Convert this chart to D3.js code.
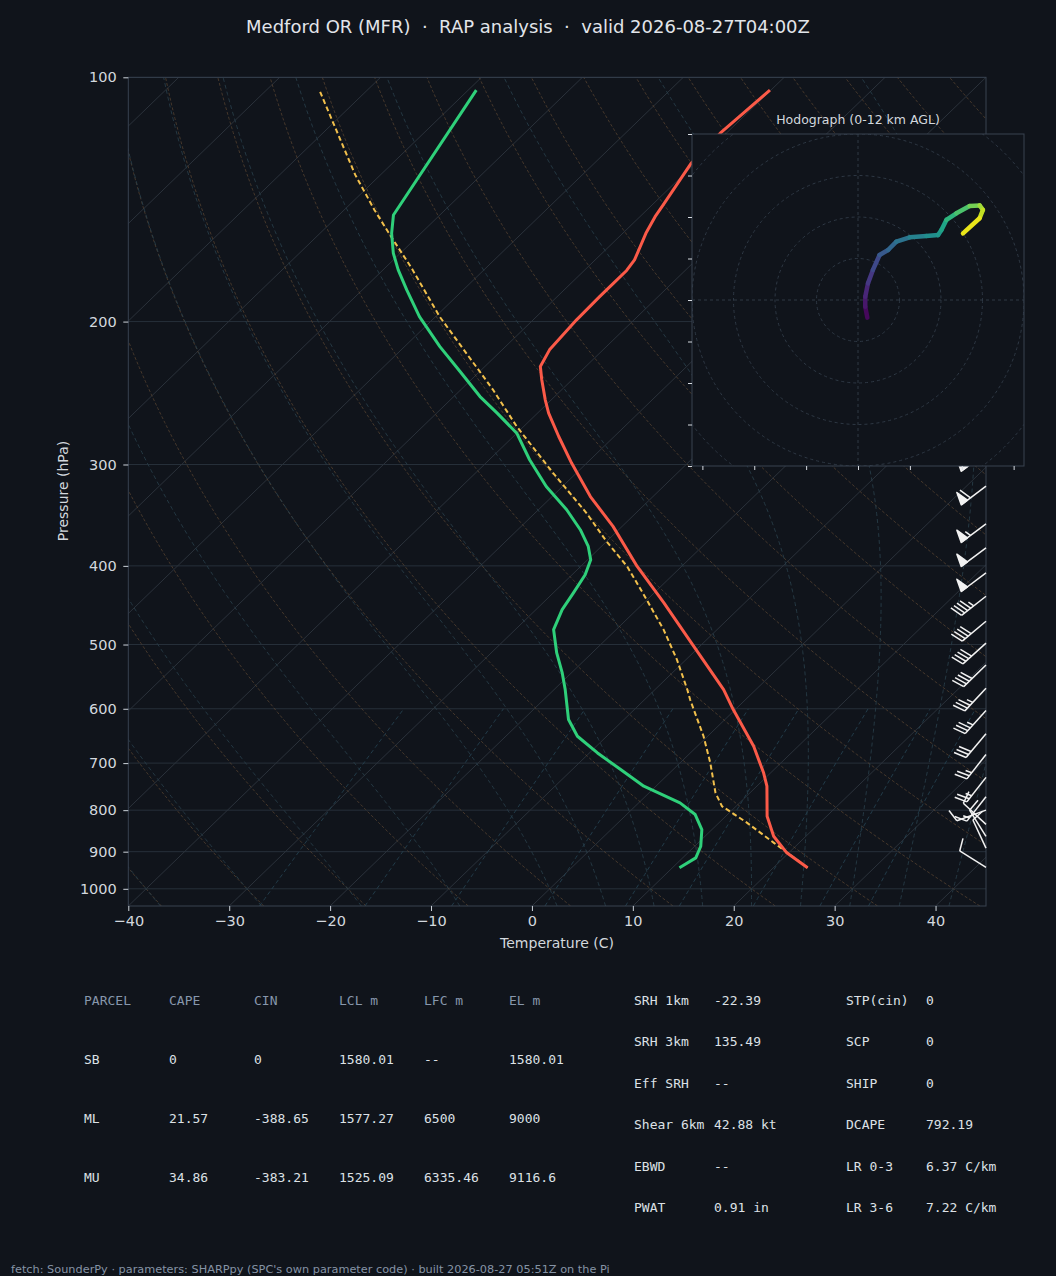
<!DOCTYPE html>
<html>
<head>
<meta charset="utf-8">
<script src="https://cdn.jsdelivr.net/npm/d3@7"></script>
<style>
  html, body { margin: 0; background: #10141b; }
  svg text { font-family: "DejaVu Sans", sans-serif; }
  .mono { font-family: "DejaVu Sans Mono", monospace; }
</style>
</head>
<body>
<svg id="chart" width="1056" height="1276"></svg>
<script>
// --- sounding values (hPa, degC) ---
const tempP = [942.1, 902.9, 861.4, 813.9, 747.4, 719.6, 667.5, 601.3, 568.2, 502.5, 444.4, 400.6, 357.6, 328.6, 298.8, 277.1, 259.3, 249.7, 235.9, 227.2, 216.7, 199.0, 186.3, 179.3, 173.0, 167.9, 155.7, 148.5, 143.7, 133.8, 127.6, 117.2, 103.7];
const tempT = [23.4, 19.8, 16.8, 14.1, 11.0, 9.3, 5.6, -0.2, -3.2, -10.6, -18.0, -24.4, -30.9, -36.2, -41.5, -45.5, -48.9, -50.6, -53.0, -54.5, -55.3, -55.7, -55.8, -55.8, -55.8, -56.1, -57.7, -58.5, -58.9, -59.8, -60.4, -60.6, -60.1];

const dewP = [942.1, 915.9, 886.2, 845.3, 810.0, 783.7, 747.4, 713.0, 680.1, 648.7, 618.6, 568.2, 542.0, 512.1, 479.3, 452.9, 432.1, 410.2, 393.0, 378.5, 361.0, 341.1, 319.4, 296.0, 274.5, 259.3, 247.4, 230.6, 214.7, 197.2, 182.8, 172.7, 164.7, 155.7, 147.8, 103.7];
const dewT = [10.7, 11.3, 10.6, 9.0, 6.8, 4.1, -1.2, -5.2, -9.2, -12.9, -15.5, -18.9, -20.9, -23.5, -26.2, -27.4, -28.0, -28.7, -29.7, -31.3, -33.8, -37.2, -41.6, -46.0, -50.0, -54.0, -57.4, -61.9, -66.5, -71.6, -75.6, -78.5, -80.7, -82.9, -84.6, -89.2];

const parcelP = [942.1, 877.7, 829.3, 791.1, 761.9, 699.6, 648.7, 584.5, 568.2, 521.9, 479.3, 432.1, 400.6, 373.2, 344.3, 307.4, 269.3, 242.7, 197.2, 171.7, 157.2, 145.7, 131.9, 116.1, 104.0];
const parcelT = [23.4, 17.5, 12.8, 8.6, 6.6, 3.0, -0.4, -5.5, -6.8, -10.9, -15.3, -21.1, -25.4, -30.0, -34.9, -42.3, -50.7, -56.8, -69.6, -77.4, -82.6, -87.0, -92.5, -99.0, -104.6];

// wind barbs: pressure (hPa), direction (deg from), speed (kt)
const barbP = [290, 319, 355, 380, 408, 436, 468, 498, 530, 566, 603, 644, 683, 729, 770, 800, 833, 862, 891, 941];
const barbDir = [233, 233, 233, 233, 233, 232, 230, 228, 226, 223, 222, 220, 218, 218, 218, 250, 313, 328, 335, 302];
const barbSpd = [65, 60, 55, 50, 50, 45, 40, 40, 40, 35, 35, 30, 25, 25, 15, 10, 10, 10, 10, 10];

// hodograph (kt) with height (km AGL)
const hodoU = [4.5, 3.5, 3.5, 4.8, 7.2, 10.4, 14.5, 18.5, 24.9, 32.9, 38.6, 40.2, 42.6, 47.4, 53.8, 58.6, 60.2, 58.6, 50.6];
const hodoV = [-8.5, -3.2, 1.6, 8.0, 14.5, 21.7, 24.1, 28.1, 30.2, 30.8, 31.3, 33.7, 38.6, 41.8, 45.3, 45.6, 43.4, 39.4, 32.1];
const hodoH = [0, 0.5, 1.0, 1.6, 2.3, 3.0, 3.6, 4.2, 4.9, 5.6, 6.2, 6.6, 7.4, 8.2, 9.0, 10.0, 10.6, 11.2, 12.0];

const pTicks = [100, 200, 300, 400, 500, 600, 700, 800, 900, 1000];
const tTicks = [-40, -30, -20, -10, 0, 10, 20, 30, 40];

// parameter tables
const parcelHead = ["PARCEL", "CAPE", "CIN", "LCL m", "LFC m", "EL m"];
const parcelName = ["SB", "ML", "MU"];
const parcelCape = ["0", "21.57", "34.86"];
const parcelCin = ["0", "-388.65", "-383.21"];
const parcelLcl = ["1580.01", "1577.27", "1525.09"];
const parcelLfc = ["--", "6500", "6335.46"];
const parcelEl = ["1580.01", "9000", "9116.6"];

const kinLabel = ["SRH 1km", "SRH 3km", "Eff SRH", "Shear 6km", "EBWD", "PWAT"];
const kinValue = ["-22.39", "135.49", "--", "42.88 kt", "--", "0.91 in"];
const idxLabel = ["STP(cin)", "SCP", "SHIP", "DCAPE", "LR 0-3", "LR 3-6"];
const idxValue = ["0", "0", "0", "792.19", "6.37 C/km", "7.22 C/km"];

const bg = "#10141b";
const svg = d3.select("#chart");
svg.append("rect").attr("width", 1056).attr("height", 1276).attr("fill", bg);

// plot box
const L = 128.3, R = 986, TOP = 77.3, BOT = 906;
const xScale = d3.scaleLinear().domain([-40, 45]).range([L, R]);
const yScale = d3.scaleLog().domain([1050, 100]).range([BOT, TOP]);
const skew = (R - L) / (BOT - TOP);
const sx = (t, p) => xScale(t) + skew * (BOT - yScale(p));

svg.append("defs").append("clipPath").attr("id", "plotclip")
  .append("rect").attr("x", L).attr("y", TOP).attr("width", R - L).attr("height", BOT - TOP);

const plot = svg.append("g").attr("clip-path", "url(#plotclip)");
const line = d3.line().x((d) => sx(d.t, d.p)).y((d) => yScale(d.p));

// pressure levels used to draw the background curves
const pLevels = d3.range(0, 61).map((i) => 1050 * Math.pow(100 / 1050, i / 60));

// isobars
plot.selectAll(".isobar").data(pTicks).enter().append("line")
  .attr("x1", L).attr("x2", R)
  .attr("y1", (d) => yScale(d)).attr("y2", (d) => yScale(d))
  .attr("stroke", "#27303a").attr("stroke-width", 1);

// isotherms
plot.selectAll(".isotherm").data(d3.range(-130, 50, 10)).enter().append("path")
  .attr("d", (t) => line([{ t: t, p: 1050 }, { t: t, p: 100 }]))
  .attr("stroke", "#2b323b").attr("stroke-width", 1).attr("fill", "none");

// dry adiabats
const kappa = 0.2857;
plot.selectAll(".dry").data(d3.range(-40, 260, 10)).enter().append("path")
  .attr("d", (t0) => line(pLevels.map((p) => ({ p: p, t: (t0 + 273.15) * Math.pow(p / 1000, kappa) - 273.15 }))))
  .attr("stroke", "#5a4632").attr("stroke-width", 0.9).attr("stroke-dasharray", "3,2")
  .attr("fill", "none").attr("opacity", 0.8);

// moist adiabats
function moistPath(t0) {
  const Rd = 287.04749, Cp = 1004.666, Lv = 2.501e6, eps = 0.62196;
  const f = (p, T) => {
    const es = 6.112 * Math.exp((17.67 * (T - 273.15)) / (T - 29.65));
    const rs = (eps * es) / (p - es);
    return (Rd * T + Lv * rs) / (p * (Cp + (Lv * Lv * rs * eps) / (Rd * T * T)));
  };
  const step = (p, T, h) => {
    const k1 = f(p, T), k2 = f(p + h / 2, T + (h / 2) * k1);
    const k3 = f(p + h / 2, T + (h / 2) * k2), k4 = f(p + h, T + h * k3);
    return T + (h / 6) * (k1 + 2 * k2 + 2 * k3 + k4);
  };
  const pts = [];
  // downward to 1050
  let Td = t0 + 273.15;
  const low = [];
  for (let p = 1000; p < 1050; p += 5) { Td = step(p, Td, 5); low.push({ p: p + 5, t: Td - 273.15 }); }
  low.reverse().forEach((d) => pts.push(d));
  pts.push({ p: 1000, t: t0 });
  // upward to 100
  let T = t0 + 273.15;
  for (let p = 1000; p > 100; p -= 5) { T = step(p, T, -5); pts.push({ p: p - 5, t: T - 273.15 }); }
  return line(pts);
}
const moistT0 = d3.range(-40, 0, 10).concat(d3.range(0, 46, 5));
plot.selectAll(".moist").data(moistT0).enter().append("path")
  .attr("d", moistPath)
  .attr("stroke", "#273c47").attr("stroke-width", 0.9).attr("stroke-dasharray", "4,3")
  .attr("fill", "none");

// mixing ratio lines
const mixW = [0.0004, 0.001, 0.002, 0.004, 0.007, 0.01, 0.016, 0.024, 0.032];
const mixLevels = d3.range(0, 21).map((i) => 1050 - i * 22.5);
plot.selectAll(".mix").data(mixW).enter().append("path")
  .attr("d", (w) => line(mixLevels.map((p) => {
    const e = (w * p) / (0.62196 + w);
    const g = Math.log(e / 6.112);
    return { p: p, t: (243.5 * g) / (17.67 - g) };
  })))
  .attr("stroke", "#24404e").attr("stroke-width", 0.9).attr("stroke-dasharray", "4,3")
  .attr("fill", "none");

// profiles
const zip = (P, T) => P.map((p, i) => ({ p: p, t: T[i] }));
plot.append("path").datum(zip(parcelP, parcelT)).attr("d", line)
  .attr("fill", "none").attr("stroke", "#f2c04c").attr("stroke-width", 2)
  .attr("stroke-dasharray", "5,3");
plot.append("path").datum(zip(dewP, dewT)).attr("d", line)
  .attr("fill", "none").attr("stroke", "#2fd07a").attr("stroke-width", 3)
  .attr("stroke-linejoin", "round");
plot.append("path").datum(zip(tempP, tempT)).attr("d", line)
  .attr("fill", "none").attr("stroke", "#fb5a48").attr("stroke-width", 3)
  .attr("stroke-linejoin", "round");

// frame
svg.append("rect").attr("x", L).attr("y", TOP).attr("width", R - L).attr("height", BOT - TOP)
  .attr("fill", "none").attr("stroke", "#384250").attr("stroke-width", 1);

// axes
const yAxis = d3.axisLeft(yScale).tickValues(pTicks).tickFormat(d3.format("d"))
  .tickSize(5).tickPadding(6.5).tickSizeOuter(0);
const gy = svg.append("g").attr("transform", `translate(${L},0)`).call(yAxis);
const xAxis = d3.axisBottom(xScale).tickValues(tTicks).tickSize(5).tickPadding(5).tickSizeOuter(0);
const gx = svg.append("g").attr("transform", `translate(0,${BOT})`).call(xAxis);
[gx, gy].forEach((g) => {
  g.select(".domain").remove();
  g.selectAll("line").attr("stroke", "#cdd3da");
  g.selectAll("text").attr("fill", "#d3d8de").style("font-size", "14.5px")
    .style("font-family", '"DejaVu Sans", sans-serif');
});

svg.append("text").attr("x", 557).attr("y", 948).attr("text-anchor", "middle")
  .attr("fill", "#d3d8de").style("font-size", "14px").text("Temperature (C)");
svg.append("text").attr("transform", "translate(68,491) rotate(-90)").attr("text-anchor", "middle")
  .attr("fill", "#d3d8de").style("font-size", "14px").text("Pressure (hPa)");

// title
svg.append("text").attr("x", 528).attr("y", 33).attr("text-anchor", "middle")
  .attr("fill", "#e2e5ea").style("font-size", "18px").style("white-space", "pre")
  .text("Medford OR (MFR)  \u00b7  RAP analysis  \u00b7  valid 2026-08-27T04:00Z");

// wind barbs along the right edge
const barbLen = 31;
const barbG = svg.append("g");
barbP.forEach((p, i) => {
  const th = (barbDir[i] * Math.PI) / 180;
  const dx = Math.sin(th), dy = -Math.cos(th);
  const nx = -dy, ny = dx;
  const bx = R, by = yScale(p);
  const pt = (s, h) => [bx + s * dx + h * nx, by + s * dy + h * ny];
  const spd = Math.round(barbSpd[i] / 5) * 5;
  const nFlag = Math.floor(spd / 50);
  const nBarb = Math.floor((spd % 50) / 10);
  const half = spd % 10 >= 5;
  const fh = 0.4 * barbLen, fw = 0.25 * barbLen, sp = 0.125 * barbLen;
  const g = barbG.append("g").attr("stroke", "#f2f2f2").attr("stroke-width", 1.5)
    .attr("fill", "#f2f2f2").attr("stroke-linejoin", "round");
  g.append("line").attr("x1", bx).attr("y1", by)
    .attr("x2", pt(barbLen, 0)[0]).attr("y2", pt(barbLen, 0)[1]);
  let off = barbLen;
  for (let k = 0; k < nFlag; k++) {
    if (off !== barbLen) off += sp / 2;
    g.append("polygon").attr("points", [pt(off, 0), pt(off - fw / 2, fh), pt(off - fw, 0)].join(" "));
    off -= fw + sp;
  }
  for (let k = 0; k < nBarb; k++) {
    const a = pt(off, 0), b = pt(off + fw / 2, fh);
    g.append("line").attr("x1", a[0]).attr("y1", a[1]).attr("x2", b[0]).attr("y2", b[1]);
    off -= sp;
  }
  if (half) {
    if (off === barbLen) off -= 1.5 * sp;
    const a = pt(off, 0), b = pt(off + fw / 4, fh / 2);
    g.append("line").attr("x1", a[0]).attr("y1", a[1]).attr("x2", b[0]).attr("y2", b[1]);
  }
});

// hodograph inset
const hx0 = 692, hx1 = 1024, hy0 = 134, hy1 = 466;
const uScale = d3.scaleLinear().domain([-80, 80]).range([hx0, hx1]);
const vScale = d3.scaleLinear().domain([-80, 80]).range([hy1, hy0]);
const hodo = svg.append("g");
hodo.append("rect").attr("x", hx0).attr("y", hy0).attr("width", hx1 - hx0).attr("height", hy1 - hy0)
  .attr("fill", bg);
svg.select("defs").append("clipPath").attr("id", "hodoclip")
  .append("rect").attr("x", hx0).attr("y", hy0).attr("width", hx1 - hx0).attr("height", hy1 - hy0);
const hin = hodo.append("g").attr("clip-path", "url(#hodoclip)");
const kt = (r) => uScale(r) - uScale(0);
hin.selectAll("circle").data([20, 40, 60, 80, 100, 120]).enter().append("circle")
  .attr("cx", uScale(0)).attr("cy", vScale(0)).attr("r", kt)
  .attr("fill", "none").attr("stroke", "#2e3844").attr("stroke-width", 1).attr("stroke-dasharray", "3,3");
hin.append("line").attr("x1", hx0).attr("x2", hx1).attr("y1", vScale(0)).attr("y2", vScale(0))
  .attr("stroke", "#2e3844").attr("stroke-dasharray", "3,3");
hin.append("line").attr("y1", hy0).attr("y2", hy1).attr("x1", uScale(0)).attr("x2", uScale(0))
  .attr("stroke", "#2e3844").attr("stroke-dasharray", "3,3");

const color = d3.scaleSequential(d3.interpolateViridis).domain([0, 12]);
for (let i = 0; i < hodoU.length - 1; i++) {
  hin.append("line")
    .attr("x1", uScale(hodoU[i])).attr("y1", vScale(hodoV[i]))
    .attr("x2", uScale(hodoU[i + 1])).attr("y2", vScale(hodoV[i + 1]))
    .attr("stroke", color((hodoH[i] + hodoH[i + 1]) / 2))
    .attr("stroke-width", 4.5).attr("stroke-linecap", "round");
}

hodo.append("rect").attr("x", hx0).attr("y", hy0).attr("width", hx1 - hx0).attr("height", hy1 - hy0)
  .attr("fill", "none").attr("stroke", "#384250");
const hl = hodo.append("g").attr("transform", `translate(${hx0},0)`)
  .call(d3.axisLeft(vScale).tickValues(d3.range(-80, 81, 20)).tickFormat("").tickSize(4).tickSizeOuter(0));
const hb = hodo.append("g").attr("transform", `translate(0,${hy1})`)
  .call(d3.axisBottom(uScale).tickValues(d3.range(-75, 76, 25)).tickFormat("").tickSize(4).tickSizeOuter(0));
[hl, hb].forEach((g) => {
  g.select(".domain").remove();
  g.selectAll("line").attr("stroke", "#d6dbe1");
});
hodo.append("text").attr("x", (hx0 + hx1) / 2).attr("y", 124).attr("text-anchor", "middle")
  .attr("fill", "#d3d8de").style("font-size", "12.5px").text("Hodograph (0-12 km AGL)");

// parcel table
const colX = [84, 169, 254, 339, 424, 509];
const rowY = [1004.5, 1063.5, 1122.5, 1181.5];
const tbl = svg.append("g");
parcelHead.forEach((h, j) => {
  tbl.append("text").attr("class", "mono").attr("x", colX[j]).attr("y", rowY[0])
    .attr("fill", "#8797ac").style("font-size", "13px").text(h);
});
const cols = [parcelName, parcelCape, parcelCin, parcelLcl, parcelLfc, parcelEl];
parcelName.forEach((n, i) => {
  cols.forEach((c, j) => {
    tbl.append("text").attr("class", "mono").attr("x", colX[j]).attr("y", rowY[i + 1])
      .attr("fill", "#dde1e6").style("font-size", "13px").style("white-space", "pre").text(c[i]);
  });
});

// kinematic / composite table
const kRow = (i) => 1004.5 + i * 41.55;
const ktbl = svg.append("g");
const kcols = [[634, kinLabel], [714, kinValue], [846, idxLabel], [926, idxValue]];
kcols.forEach(([x, arr]) => {
  arr.forEach((s, i) => {
    ktbl.append("text").attr("class", "mono").attr("x", x).attr("y", kRow(i))
      .attr("fill", "#dde1e6").style("font-size", "13px").style("white-space", "pre").text(s);
  });
});

// footer
svg.append("text").attr("x", 11).attr("y", 1273).attr("fill", "#8593a5").style("font-size", "11.3px")
  .text("fetch: SounderPy \u00b7 parameters: SHARPpy (SPC's own parameter code) \u00b7 built 2026-08-27 05:51Z on the Pi");
</script>
</body>
</html>
